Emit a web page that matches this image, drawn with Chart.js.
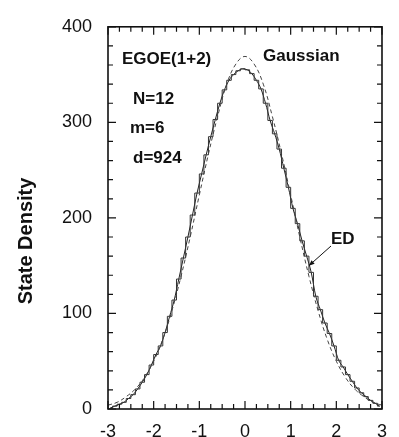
<!DOCTYPE html>
<html>
<head>
<meta charset="utf-8">
<script src="https://cdn.jsdelivr.net/npm/chart.js@4/dist/chart.umd.min.js"></script>
<style>
  html, body { margin: 0; padding: 0; background: #fff; }
  #wrap { width: 399px; height: 437px; position: relative; }
</style>
</head>
<body>
<div id="wrap"><canvas id="density-chart"></canvas></div>
<script>
// ED histogram, bin centres (in units of sigma, width 0.1) and counts
const binCenters = [-2.95, -2.85, -2.75, -2.65, -2.55, -2.45, -2.35, -2.25, -2.15, -2.05,
  -1.95, -1.85, -1.75, -1.65, -1.55, -1.45, -1.35, -1.25, -1.15, -1.05,
  -0.95, -0.85, -0.75, -0.65, -0.55, -0.45, -0.35, -0.25, -0.15, -0.05,
  0.05, 0.15, 0.25, 0.35, 0.45, 0.55, 0.65, 0.75, 0.85, 0.95,
  1.05, 1.15, 1.25, 1.35, 1.45, 1.55, 1.65, 1.75, 1.85, 1.95,
  2.05, 2.15, 2.25, 2.35, 2.45, 2.55, 2.65, 2.75, 2.85, 2.95]
const edCounts = [1, 3, 5, 7, 11, 15, 21, 28, 36, 46,
  57, 66, 80, 97, 114, 136, 158, 180, 203, 226,
  246, 266, 285, 303, 320, 334, 344, 350, 354, 356,
  355, 351, 344, 335, 320, 302, 288, 272, 252, 232,
  210, 194, 176, 160, 143, 118, 104, 90, 79, 66,
  51, 44, 36, 29, 22, 17, 13, 9, 6, 3]

// Gaussian reference curve
const gaussX = [-3, -2.8, -2.6, -2.4, -2.2, -2, -1.8, -1.6, -1.4, -1.2, -1, -0.8, -0.6, -0.4, -0.2,
  0, 0.2, 0.4, 0.6, 0.8, 1, 1.2, 1.4, 1.6, 1.8, 2, 2.2, 2.4, 2.6, 2.8, 3]
const gaussY = [4, 7, 13, 21, 33, 50, 73, 103, 139, 180, 224, 267, 306, 340, 361,
  369, 361, 340, 306, 267, 224, 180, 139, 103, 73, 50, 33, 21, 13, 7, 4]

const xTicks = [-3, -2, -1, 0, 1, 2, 3]
const yTicks = [0, 100, 200, 300, 400]

const ink = '#111'
const tickFont = { family: 'Liberation Sans, Arial, sans-serif', size: 18 }
const boldFont = 'bold 17px "Liberation Sans", Arial, sans-serif'

const toPoints = (xs, ys) => xs.map((x, i) => ({ x: x, y: ys[i] }))

// frame plus inward ticks on all four sides
const frameTicks = {
  id: 'frameTicks',
  afterDatasetsDraw(chart) {
    const { ctx, chartArea: a, scales: { x, y } } = chart
    ctx.save()
    ctx.strokeStyle = ink
    ctx.lineWidth = 1.6
    ctx.strokeRect(a.left, a.top, a.right - a.left, a.bottom - a.top)
    ctx.lineWidth = 1.2
    ctx.beginPath()
    for (let i = 0; i <= 24; i++) {
      const px = x.getPixelForValue(x.min + i * 0.25)
      const len = i % 4 === 0 ? 8 : 5
      ctx.moveTo(px, a.bottom); ctx.lineTo(px, a.bottom - len)
      ctx.moveTo(px, a.top); ctx.lineTo(px, a.top + len)
    }
    for (let i = 0; i <= 20; i++) {
      const py = y.getPixelForValue(y.min + i * 20)
      const len = i % 5 === 0 ? 8 : 5
      ctx.moveTo(a.left, py); ctx.lineTo(a.left + len, py)
      ctx.moveTo(a.right, py); ctx.lineTo(a.right - len, py)
    }
    ctx.stroke()
    ctx.restore()
  }
}

// axis title, text labels and the ED pointer
const notes = {
  id: 'notes',
  afterDraw(chart) {
    const { ctx, scales: { x, y } } = chart
    ctx.save()
    ctx.fillStyle = ink

    ctx.save()
    ctx.translate(26, 241)
    ctx.rotate(-Math.PI / 2)
    ctx.font = 'bold 20px "Liberation Sans", Arial, sans-serif'
    ctx.textAlign = 'center'
    ctx.textBaseline = 'middle'
    ctx.fillText('State Density', 0, 0)
    ctx.restore()

    ctx.font = boldFont
    ctx.textBaseline = 'alphabetic'
    ctx.fillText('EGOE(1+2)', 122, 64)
    ctx.fillText('N=12', 133, 104)
    ctx.fillText('m=6', 130, 133)
    ctx.fillText('d=924', 133, 163)
    ctx.fillText('Gaussian', 263, 61)
    ctx.fillText('ED', 331, 244)

    const tx = x.getPixelForValue(1.4)
    const ty = y.getPixelForValue(150)
    const sx = 331, sy = 246
    ctx.strokeStyle = ink
    ctx.lineWidth = 1
    ctx.beginPath()
    ctx.moveTo(sx, sy); ctx.lineTo(tx, ty)
    ctx.stroke()
    const ang = Math.atan2(ty - sy, tx - sx)
    ctx.beginPath()
    ctx.moveTo(tx, ty)
    ctx.lineTo(tx - 6 * Math.cos(ang - 0.4), ty - 6 * Math.sin(ang - 0.4))
    ctx.lineTo(tx - 6 * Math.cos(ang + 0.4), ty - 6 * Math.sin(ang + 0.4))
    ctx.closePath()
    ctx.fill()
    ctx.restore()
  }
}

new Chart(document.getElementById('density-chart'), {
  type: 'line',
  data: {
    datasets: [
      {
        label: 'Gaussian',
        data: toPoints(gaussX, gaussY),
        borderColor: '#444',
        borderWidth: 1,
        borderDash: [4, 3],
        pointRadius: 0,
        tension: 0.4,
        fill: false
      },
      {
        label: 'ED histogram',
        data: toPoints(binCenters, edCounts),
        borderColor: '#333',
        borderWidth: 1,
        stepped: 'middle',
        pointRadius: 0,
        fill: false
      },
      {
        label: 'ED',
        data: toPoints(binCenters, edCounts),
        borderColor: '#222',
        borderWidth: 1,
        cubicInterpolationMode: 'monotone',
        pointRadius: 0,
        fill: false
      }
    ]
  },
  options: {
    responsive: true,
    maintainAspectRatio: false,
    animation: false,
    layout: { padding: { left: 4, right: 8, top: 20, bottom: 0 } },
    plugins: {
      legend: { display: false },
      tooltip: { enabled: false }
    },
    scales: {
      x: {
        type: 'linear',
        min: -3,
        max: 3,
        afterFit: (scale) => { scale.height = 28 },
        afterBuildTicks: (scale) => { scale.ticks = xTicks.map(v => ({ value: v })) },
        grid: { display: false, drawTicks: false },
        border: { display: false },
        ticks: { color: ink, font: tickFont, padding: 12 }
      },
      y: {
        min: 0,
        max: 400,
        afterFit: (scale) => { scale.width = 104 },
        afterBuildTicks: (scale) => { scale.ticks = yTicks.map(v => ({ value: v })) },
        grid: { display: false, drawTicks: false },
        border: { display: false },
        ticks: { color: ink, font: tickFont, padding: 16 }
      }
    }
  },
  plugins: [frameTicks, notes]
})
</script>
</body>
</html>
